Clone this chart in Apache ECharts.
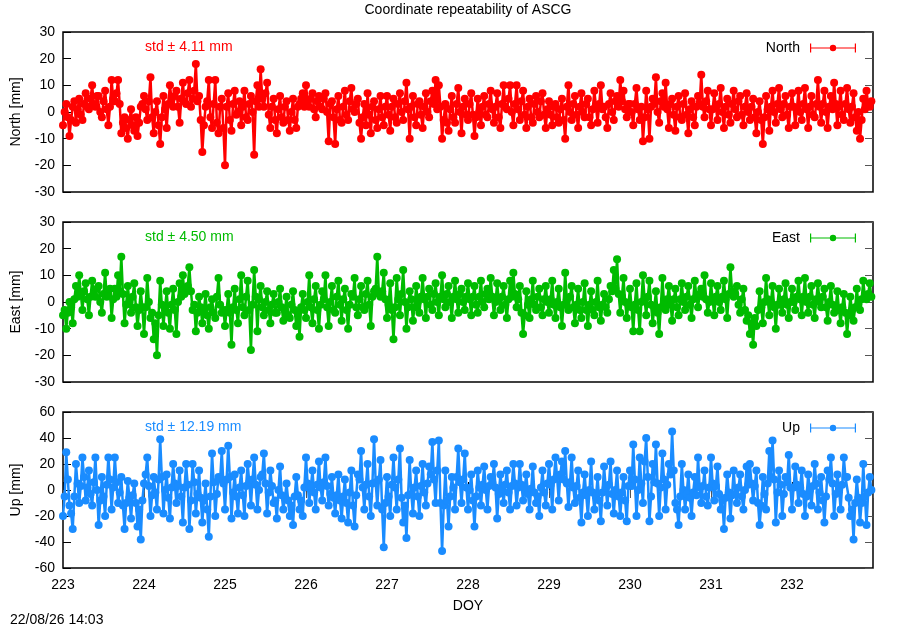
<!DOCTYPE html>
<html>
<head>
<meta charset="UTF-8">
<title>Coordinate repeatability of ASCG</title>
<script src="https://cdn.jsdelivr.net/npm/echarts@6/dist/echarts.min.js"></script>
<style>
  html, body { margin: 0; padding: 0; background: #fff; }
  #chart { width: 900px; height: 630px; }
</style>
</head>
<body>
<div id="chart"></div>
<script>
// sampling: one value every 0.02 day starting at DOY 223.00 (50 per day)
var startDoy = 223;
var stepDay = 0.02;

var north = [
  -5, 0, 3, -2, -9, -3, 2, 4, -4, 1, 5, -1, -3, 3, 7, 2, 1, 5, 10, 3, 2, 6, 6, 0, -2, 4, 8, 1, -5, 2, 12, 5, 4, 7, 12, 3, -8, -4, -2, -6, -10, -3, 1, -5, -7, -2, -9, -4, 2, 3,
  6, 1, -3, 4, 13, -2, -8, 0, 4, -5, -12, -2, 6, 1, -6, 3, 10, 5, 2, 6, 8, 2, -4, 5, 11, 4, 3, 7, 12, 2, 5, 8, 18, 4, 6, -3, -15, -5, 2, 4, 12, -2, -6, 3, 12, -4, -8, 2, 5, -6,
  -20, 2, 7, -3, -7, 3, 8, -1, 0, 4, -5, 2, 8, -2, -3, 3, 6, 0, -16, 4, 10, 2, 16, 5, 2, 7, 11, -1, -6, 2, 5, -3, -8, 1, 6, -2, -4, 2, 4, -3, -7, 0, 5, -3, -6, 2, 3, 5, 7, 2,
  10, 4, 2, 5, 7, 1, -2, 4, 6, 2, 1, 5, 7, 0, -11, 3, 4, -2, -12, 1, 6, -3, -4, 2, 8, -1, -3, 4, 9, 1, 0, 3, 5, -4, -10, -2, 3, -5, 7, -1, -8, 2, 4, -3, -6, 1, 6, -2, -5, 2,
  6, -1, -7, 2, 5, -2, -4, 3, 7, 0, -3, 4, 11, 1, -10, 2, 6, -2, -5, 3, 4, -1, -6, 2, 7, 0, -2, 4, 8, 3, 12, 1, 10, 2, -10, -3, 3, -4, -7, 1, 6, -2, -4, 3, 9, 0, -8, 2, 5, -1,
  -3, 3, 7, -1, -9, -2, 5, 0, -5, 2, 6, -1, -2, 3, 8, 1, -4, 2, 7, -2, -6, 3, 10, 2, 1, 5, 10, 0, -5, 3, 10, 1, -3, 4, 8, -1, -6, 2, 5, -2, -4, 3, 6, 0, -2, 4, 7, -1, -6, 1,
  4, -1, -5, 2, 3, -2, -4, 1, 5, -3, -10, 2, 10, 0, -3, 3, 6, -1, -6, 2, 7, 0, -2, 3, 5, -2, -5, 1, 8, 2, -4, 3, 10, 1, 2, -2, -6, 3, 7, 0, -3, 4, 6, 2, 12, 4, 8, 1, -2, 3,
  3, 0, -5, 3, 9, 1, -3, 2, -11, -2, 8, 1, -10, 2, 5, 3, 13, 0, -4, 4, 7, 2, 11, 1, -6, 3, 5, -1, -7, 2, 6, -2, -3, 3, 7, -1, -8, 1, 4, -2, -5, 2, 6, 3, 14, 2, -2, 4, 8, 1,
  -5, 1, 7, 2, -3, 3, 9, 0, -6, 2, 5, -1, -4, 3, 8, 1, -2, 4, 6, -1, -5, 2, 7, 0, -3, 2, 5, -2, -8, 0, 4, -3, -12, -2, 6, 1, -7, 2, 8, 0, -4, 3, 9, 1, -2, 3, 6, -1, -6, 2,
  7, 2, -5, 1, 8, 0, -3, 3, 9, 1, -6, 2, 6, -1, -2, 3, 12, 2, -4, 3, 8, 0, -6, 2, 6, 1, 11, 3, -5, 2, 8, -1, -3, 3, 9, 1, -4, 2, 7, -2, -7, 0, -10, -3, 5, 1, 8, 3, 2, 4
];
var east = [
  -5, -3, -10, -4, 0, -2, -8, 1, 6, 2, 10, 3, -3, 4, 7, 1, -5, 2, 8, 3, 2, 5, 6, 0, -4, 3, 11, 2, 3, 5, -6, 1, 5, 2, 10, 4, 17, 3, -8, -1, 6, 0, -4, 2, 7, -2, -9, -3, 4, -2,
  -12, -2, 9, 0, -6, -4, -14, -8, -20, -5, 8, -1, -9, -2, 4, -4, -10, -1, 5, -3, -12, 0, 7, 2, 10, 3, 4, 6, 13, 4, -3, -1, -11, -4, 2, -2, -8, -3, 3, -5, -10, -2, 1, -4, -6, 2, 9, -1, -4, -3,
  -9, -3, 3, -4, -16, -2, 5, -3, -8, 1, 10, -2, -5, 2, 8, -3, -18, -1, 12, 2, -11, 1, 6, -2, -5, 0, 4, -3, -8, -1, 3, -4, -4, 0, 5, -2, -7, -3, 2, -5, -6, -1, 4, -3, -9, -4, -13, -2, 3, -3,
  -6, 0, 10, -2, -8, 1, 6, -3, -10, -1, 4, 1, 10, -2, -9, 0, 6, -3, -4, 2, 8, -1, -7, 1, 5, -3, -10, -1, 3, 2, 9, -2, -5, 1, 6, -2, -3, 3, 8, -1, -9, 2, 4, 5, 17, 3, 2, 4, 11, 1,
  -6, -1, 7, -3, -14, -2, 9, 1, -5, 3, 12, 0, -10, -2, 4, 1, -7, -2, 6, 0, -4, 2, 9, 1, -6, 2, 5, -1, -3, 3, 7, 0, -5, 2, 10, 1, -2, 3, 6, 0, -6, 2, 8, 1, -4, 3, 5, 0, -3, 2,
  7, 1, -5, 2, 6, -1, -4, 2, 8, 0, -2, 3, 5, 1, 9, 2, -5, 0, 7, 1, -3, 2, 6, -1, -6, 1, 8, 2, 11, 3, -2, 1, 6, -4, -12, -5, 4, -1, -6, 1, 8, -1, -3, 2, 5, -2, -5, 1, 6, 0,
  -4, 1, 8, -1, -6, 0, 5, -2, -9, -1, 11, 1, -3, 2, 6, -2, -8, -1, 5, -3, -6, 0, 7, -3, -9, -1, 4, -3, -5, 0, 8, -2, -7, -1, 3, -2, -4, 1, 6, 4, 12, 5, 16, 3, -4, 2, 9, 0, -6, -1,
  5, -2, -11, -1, 7, -3, -11, 0, 10, 1, -5, 2, 8, -1, -8, -2, 4, -4, -12, -2, 9, 0, -3, 1, 6, -1, -7, 1, 5, -2, -5, 1, 7, 0, -3, 2, 6, -1, -6, 1, 8, 2, -2, 3, 5, 2, 10, 1, -4, 0,
  7, 1, -5, 2, 6, 0, -3, 2, 8, 1, -6, 3, 13, 4, 2, 3, 6, -1, -4, 1, 5, -3, -7, -5, -12, -8, -16, -6, -9, -3, 4, -2, -8, 0, 9, 1, -5, 0, 6, -2, -10, -1, 5, -1, -4, 1, 7, -1, -6, 0,
  5, 0, -3, 2, 8, 1, -5, 2, 9, 0, -4, 2, 6, -1, -6, 1, 7, 0, -2, 2, 5, -2, -7, 0, 6, -1, -4, -2, 4, -3, -8, -2, 3, -4, -12, -5, 2, -3, -7, -2, 5, -1, -3, 1, 8, 2, 1, 3, 7, 2
];
var up = [
  -20, -5, 29, 8, -12, -18, -30, -5, 20, 5, -10, 3, 25, 10, -8, 2, 15, -3, -12, 6, 25, 0, -27, -8, 10, -5, -20, 4, 25, 8, -15, 2, 25, 6, -10, -2, 10, -12, -30, -10, 7, -6, -22, -4, 5, -10, -28, -15, -38, -8,
  5, 12, 25, 3, -20, -4, 10, -2, -15, 8, 39, 10, -18, 0, 12, -6, -22, 2, 20, 5, -10, 3, 15, -5, -25, 2, 20, 4, -30, -8, 20, 6, -18, -3, 15, -6, -25, -8, 5, -15, -36, -5, 28, 6, -20, -3, 10, 8, 30, 5,
  -15, 8, 34, 10, -22, -2, 12, -5, -18, 2, 15, -4, -20, 3, 20, 6, -12, 8, 25, 4, -15, 0, 10, 12, 28, 5, -18, -2, 15, 3, -10, -8, -22, 0, 18, -4, -15, -6, 5, -8, -20, -12, -27, -5, 10, -4, -15, -8, -20, 2,
  25, 5, -10, 3, 15, -2, -15, 4, 22, 2, -8, 6, 25, 3, -12, -3, 10, -6, -18, -4, 12, -8, -22, -5, 8, -10, -25, -2, 15, -12, -28, -4, 12, 8, 30, 2, -15, 4, 20, -5, -20, 5, 39, 6, -12, 8, 23, -15, -44, -10,
  10, -5, -20, 4, 25, 2, -15, 8, 32, -6, -25, -12, -37, -4, 23, -3, -18, 2, 15, -5, -20, 3, 20, -2, -12, 5, 18, 12, 37, 8, -10, 15, 38, -10, -47, -12, 15, -8, -28, -5, 10, 2, -15, 10, 32, 6, -10, 8, 28, 2,
  -15, 0, 12, -8, -28, -5, 15, 2, -12, 4, 18, 0, -15, 3, 10, 6, 20, 2, -22, -3, 12, 1, -10, 4, 15, -2, -15, 3, 20, 5, -12, 2, 20, 4, -8, 2, 12, -3, -15, 1, 18, -2, -10, -5, -20, 2, 15, -2, -12, 5,
  20, 4, -15, 8, 25, 10, -8, 12, 22, 8, 30, 5, -13, 6, 25, 2, -10, 3, 15, -6, -25, -2, 12, -4, -20, 0, 22, -2, -15, -5, 10, -8, -24, -2, 18, 2, -12, 4, 22, -3, -18, 0, 15, -5, -20, -2, 10, -8, -24, 3,
  15, 3, 35, 8, -20, 0, 25, 5, -10, 22, 40, 10, -24, -5, 20, 6, 35, 5, -20, 2, 28, 8, -15, 4, 20, 12, 45, 15, -10, -15, -27, -5, 20, 0, -15, -3, 12, -6, -20, -2, 10, -4, 25, 2, -10, 3, 15, -5, -12, 2,
  25, 5, -8, 3, 18, -3, -15, -8, -30, -6, 12, -2, -22, -4, 15, -3, -10, 2, 12, -5, -15, 0, 18, 4, 20, 5, -8, 3, 15, -10, -27, -12, 10, -3, -15, 5, 30, 10, 38, 8, -25, -2, 15, 4, -20, -3, 10, 6, 27, 2,
  -15, 2, 18, 4, -10, 2, 15, -3, -20, -5, 12, 0, -12, 3, 20, 5, -15, -2, 10, -8, -25, -5, 15, 8, 25, 5, -20, -3, 12, 2, -15, 4, 25, 10, 10, -6, -20, -15, -38, -10, 8, -6, -25, -10, 20, -5, -27, -2, 10, 0
];

var names = ['North', 'East', 'Up'];
var stdLabels = ['std \u00b1 4.11 mm', 'std \u00b1 4.50 mm', 'std \u00b1 12.19 mm'];
var yNames = ['North [mm]', 'East [mm]', 'Up [mm]'];
var yMin = [-30, -30, -60];
var yMax = [30, 30, 60];
var yStep = [10, 10, 20];
var colors = ['#ff0000', '#00bb00', '#1a8cff'];

var font = "'Liberation Sans', Arial, Helvetica, sans-serif";
var panels = [north, east, up];
var gridTop = [32, 222, 412];
var gridHeight = [160, 160, 156];

function toPoints(arr) {
  var pts = [];
  for (var i = 0; i < arr.length; i++) {
    pts.push([startDoy + i * stepDay, arr[i]]);
  }
  return pts;
}

// legend glyph: gnuplot errorbar sample (caps, line, point)
var errIcon = 'path://M0,0h1.2v9h-1.2z M0,3.9h46v1.2h-46z M44.8,0h1.2v9h-1.2z M23,1.3a3.2,3.2 0 1,1 0,6.4a3.2,3.2 0 1,1 0,-6.4z';

var grids = [], xAxes = [], yAxes = [], series = [], legends = [], texts = [];

for (var p = 0; p < 3; p++) {
  var last = (p === 2);
  grids.push({
    left: 63, right: 27, top: gridTop[p], height: gridHeight[p],
    show: true, borderColor: '#000', borderWidth: 1.5, backgroundColor: 'transparent'
  });
  // bottom x axis
  xAxes.push({
    type: 'value', gridIndex: p, min: 223, max: 233, interval: 1,
    position: 'bottom',
    axisLine: { show: false },
    axisTick: { show: last, inside: true, length: 8, lineStyle: { color: '#000', width: 1 } },
    axisLabel: { show: last, showMaxLabel: false, margin: 10, color: '#000', fontSize: 14, fontFamily: font },
    splitLine: { show: false },
    name: last ? 'DOY' : '', nameLocation: 'middle', nameGap: 31,
    nameTextStyle: { color: '#000', fontSize: 14, fontFamily: font }
  });
  // top x axis (mirrored ticks on the lowest panel)
  xAxes.push({
    type: 'value', gridIndex: p, min: 223, max: 233, interval: 1,
    position: 'top',
    axisLine: { show: false },
    axisTick: { show: last, inside: true, length: 8, lineStyle: { color: '#555', width: 1 } },
    axisLabel: { show: false },
    splitLine: { show: false }
  });
  yAxes.push({
    type: 'value', gridIndex: p, min: yMin[p], max: yMax[p], interval: yStep[p],
    position: 'left',
    axisLine: { show: false },
    axisTick: { show: true, inside: true, length: 8, lineStyle: { color: '#000', width: 1 } },
    axisLabel: { margin: 8, color: '#000', fontSize: 14, fontFamily: font },
    splitLine: { show: false },
    name: yNames[p], nameLocation: 'middle', nameGap: 40,
    nameTextStyle: { color: '#000', fontSize: 14, fontFamily: font }
  });
  yAxes.push({
    type: 'value', gridIndex: p, min: yMin[p], max: yMax[p], interval: yStep[p],
    position: 'right',
    axisLine: { show: false },
    axisTick: { show: true, inside: true, length: 8, lineStyle: { color: '#555', width: 1 } },
    axisLabel: { show: false },
    splitLine: { show: false }
  });
  series.push({
    name: names[p], type: 'line',
    xAxisIndex: p * 2, yAxisIndex: p * 2,
    data: toPoints(panels[p]),
    symbol: 'circle', symbolSize: 8,
    showSymbol: true,
    itemStyle: { color: colors[p] },
    lineStyle: { color: colors[p], width: 2.5 },
    emphasis: { disabled: true },
    animation: false
  });
  legends.push({
    data: [{ name: names[p], icon: errIcon }],
    right: 39, top: gridTop[p] + 4,
    orient: 'vertical', align: 'right',
    itemWidth: 46, itemHeight: 9,
    selectedMode: false,
    textStyle: { color: '#000', fontSize: 14, fontFamily: font, padding: [0, 5, 0, 0] }
  });
  texts.push({
    type: 'text', left: 145, top: gridTop[p] + 8,
    style: { text: stdLabels[p], fill: colors[p], fontSize: 14, fontFamily: font }
  });
}

texts.push({
  type: 'text', x: 468, y: 3,
  style: { text: 'Coordinate repeatability of ASCG', fill: '#000', fontSize: 14, fontFamily: font,
           align: 'center', verticalAlign: 'top' }
});
texts.push({
  type: 'text', left: 10, top: 613,
  style: { text: '22/08/26 14:03', fill: '#000', fontSize: 14, fontFamily: font }
});

var chart = echarts.init(document.getElementById('chart'), null, { renderer: 'canvas' });
chart.setOption({
  backgroundColor: '#fff',
  animation: false,
  grid: grids,
  xAxis: xAxes,
  yAxis: yAxes,
  legend: legends,
  series: series,
  graphic: texts
});
</script>
</body>
</html>
